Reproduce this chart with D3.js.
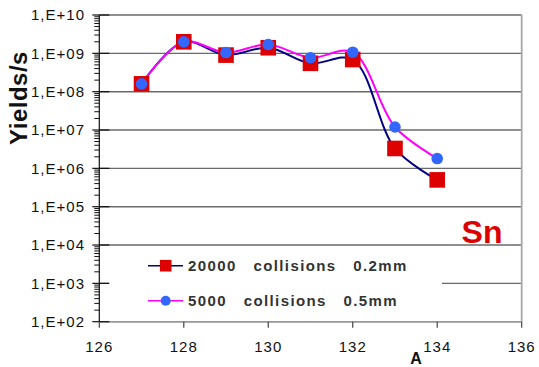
<!DOCTYPE html>
<html>
<head>
<meta charset="utf-8">
<script src="https://cdn.jsdelivr.net/npm/d3@7"></script>
<style>
  html, body { margin: 0; padding: 0; background: #fff; }
  svg { display: block; }
  text { font-family: Arial, "Liberation Sans", sans-serif; }
</style>
</head>
<body>
<svg id="chart" width="539" height="367"></svg>
<script>
// ---- data ----
const massNumbers = [127, 128, 129, 130, 131, 132, 133, 134];
const yields20000 = [1.6e8, 2.0e9, 9.0e8, 1.4e9, 5.5e8, 6.9e8, 3.3e6, 5.0e5];
const yields5000  = [1.6e8, 2.0e9, 1.05e9, 1.7e9, 7.7e8, 1.07e9, 1.2e7, 1.8e6];
const seriesNames = ["20000   collisions   0.2mm", "5000   collisions   0.5mm"];
const xTickValues = [126, 128, 130, 132, 134, 136];
const yTickValues = [1e2, 1e3, 1e4, 1e5, 1e6, 1e7, 1e8, 1e9, 1e10];
const yTickLabels = ["1,E+02", "1,E+03", "1,E+04", "1,E+05", "1,E+06", "1,E+07", "1,E+08", "1,E+09", "1,E+10"];
const xTitle = "A";
const yTitle = "Yields/s";
const elementLabel = "Sn";

// ---- layout ----
const svg = d3.select("#chart");
const L = 99.3, R = 521.7, T = 15, B = 321.7;
const x = d3.scaleLinear().domain([126, 136]).range([L, R]);
const y = d3.scaleLog().domain([1e2, 1e10]).range([B, T]);

// gridlines
svg.append("g").selectAll("line").data(yTickValues).join("line")
  .attr("x1", L).attr("x2", R)
  .attr("y1", d => y(d)).attr("y2", d => y(d))
  .attr("stroke", "#6a6a6a").attr("stroke-width", 1.4);

// legend background (covers gridlines)
const lg = svg.append("g");
lg.append("rect").attr("x", 109).attr("y", 248).attr("width", 333).attr("height", 73.5).attr("fill", "#fff");

// axes lines
svg.append("line").attr("x1", L).attr("x2", R).attr("y1", B).attr("y2", B)
  .attr("stroke", "#9a9a9a").attr("stroke-width", 1.3);
svg.append("line").attr("x1", R).attr("x2", R).attr("y1", T).attr("y2", B)
  .attr("stroke", "#a8a8a8").attr("stroke-width", 1.8);
svg.append("line").attr("x1", L).attr("x2", L).attr("y1", T).attr("y2", B)
  .attr("stroke", "#111").attr("stroke-width", 1.2);

// y minor ticks
const minorTicks = y.ticks().filter(v => yTickValues.indexOf(v) < 0);
svg.append("g").selectAll("line").data(minorTicks).join("line")
  .attr("x1", L - 5).attr("x2", L)
  .attr("y1", d => y(d)).attr("y2", d => y(d))
  .attr("stroke", "#111").attr("stroke-width", 1);
// y major ticks
svg.append("g").selectAll("line").data(yTickValues).join("line")
  .attr("x1", L - 7).attr("x2", L + 10)
  .attr("y1", d => y(d)).attr("y2", d => y(d))
  .attr("stroke", "#111").attr("stroke-width", 1.2);
// y labels
svg.append("g").selectAll("text").data(yTickValues).join("text")
  .attr("x", 85).attr("y", d => y(d) + 5.3)
  .attr("text-anchor", "end")
  .attr("font-size", 15).attr("letter-spacing", 1).attr("fill", "#111")
  .text((d, i) => yTickLabels[i]);

// x ticks
svg.append("g").selectAll("line").data(xTickValues).join("line")
  .attr("x1", d => x(d)).attr("x2", d => x(d))
  .attr("y1", B).attr("y2", B + 6)
  .attr("stroke", "#444").attr("stroke-width", 1.2);
svg.append("g").selectAll("text").data(xTickValues).join("text")
  .attr("x", d => x(d)).attr("y", 351.7)
  .attr("text-anchor", "middle")
  .attr("font-size", 15).attr("letter-spacing", 1).attr("fill", "#111")
  .text(d => d);

// axis titles
svg.append("text").attr("x", 416).attr("y", 363.5)
  .attr("text-anchor", "middle").attr("font-size", 16).attr("font-weight", "bold")
  .attr("fill", "#111").text(xTitle);
svg.append("text").attr("transform", "translate(27,98) rotate(-90)")
  .attr("text-anchor", "middle").attr("font-size", 24).attr("font-weight", "bold")
  .attr("letter-spacing", 0.5).attr("fill", "#111").text(yTitle);

// element label
svg.append("text").attr("x", 482).attr("y", 242.7)
  .attr("text-anchor", "middle").attr("font-size", 32).attr("font-weight", "bold")
  .attr("fill", "#dd0000").text(elementLabel);

// series lines
const line = d3.line().x(d => x(d[0])).y(d => y(d[1])).curve(d3.curveCatmullRom.alpha(0.5));
const s1 = massNumbers.map((m, i) => [m, yields20000[i]]);
const s2 = massNumbers.map((m, i) => [m, yields5000[i]]);
svg.append("path").attr("d", line(s1)).attr("fill", "none")
  .attr("stroke", "#000080").attr("stroke-width", 2);
svg.append("path").attr("d", line(s2)).attr("fill", "none")
  .attr("stroke", "#ff00ff").attr("stroke-width", 2);

// markers
const sq = 15.6;
svg.append("g").selectAll("rect").data(s1).join("rect")
  .attr("x", d => x(d[0]) - sq / 2).attr("y", d => y(d[1]) - sq / 2)
  .attr("width", sq).attr("height", sq).attr("fill", "#dd0000");
svg.append("g").selectAll("circle").data(s2).join("circle")
  .attr("cx", d => x(d[0])).attr("cy", d => y(d[1])).attr("r", 5.8)
  .attr("fill", "#3366ff");

// legend entries
const legY = [265.7, 300.7];
lg.append("line").attr("x1", 148).attr("x2", 183).attr("y1", legY[0]).attr("y2", legY[0])
  .attr("stroke", "#000080").attr("stroke-width", 1.5);
lg.append("rect").attr("x", 165.7 - 5.8).attr("y", legY[0] - 5.8).attr("width", 11.6).attr("height", 11.6)
  .attr("fill", "#dd0000");
lg.append("line").attr("x1", 148).attr("x2", 183).attr("y1", legY[1]).attr("y2", legY[1])
  .attr("stroke", "#ff00ff").attr("stroke-width", 1.5);
lg.append("circle").attr("cx", 165.7).attr("cy", legY[1]).attr("r", 5)
  .attr("fill", "#3366ff");
lg.selectAll("text").data(seriesNames).join("text")
  .attr("x", 188).attr("y", (d, i) => legY[i] + 5.3)
  .attr("font-size", 15).attr("font-weight", "bold").attr("letter-spacing", 1.4)
  .attr("fill", "#333").style("white-space", "pre")
  .text(d => d);
</script>
</body>
</html>
